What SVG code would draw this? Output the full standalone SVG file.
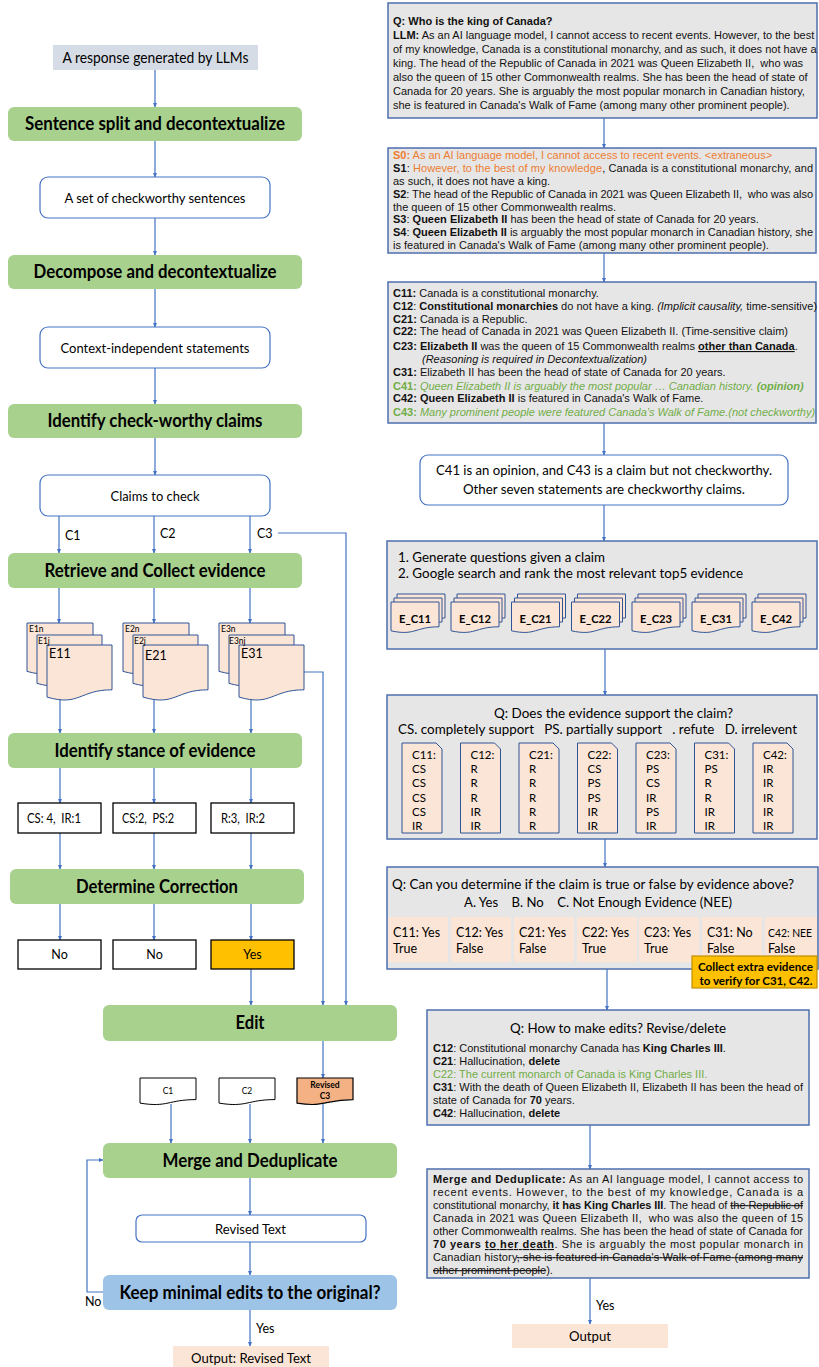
<svg xmlns="http://www.w3.org/2000/svg" width="819" height="1367" viewBox="0 0 819 1367">
<defs>
<style>
.con{fill:none;stroke:#4472c4;stroke-width:1.2}
.arr{marker-end:url(#ah)}
.gbx{fill:#a9d18e}
.bbx{fill:#9dc3e6}
.gray{fill:#e7e6e6;stroke:#4f6fad;stroke-width:1.5}
.wbox{fill:#fff;stroke:#4472c4;stroke-width:1.2}
.kbox{fill:#fff;stroke:#000;stroke-width:1.3}
.ybox{fill:#ffc000;stroke:#000;stroke-width:1.3}
.obox{fill:#f4b183;stroke:#000;stroke-width:1.2}
.peach{fill:#fbe5d6}
.edoc{fill:#fbe5d6;stroke:#2f5597;stroke-width:1}
.cal{font-family:Lato,"Open Sans","DejaVu Sans",sans-serif;fill:#000}
.ar{font-family:"Liberation Sans",Arial,sans-serif;font-size:11px;fill:#111}
.h{font-size:18px;font-weight:bold;text-anchor:middle}
.m{text-anchor:middle}
.b{font-weight:bold}
.i{font-style:italic}
.o{fill:#ed7d31}
.g{fill:#70ad47}
.u{text-decoration:underline}
.s{text-decoration:line-through}
.pre{white-space:pre}
</style>
<marker id="ah" viewBox="0 0 10 10" refX="9" refY="5" markerWidth="5" markerHeight="5" markerUnits="userSpaceOnUse" orient="auto"><path d="M0,0.5 L10,5 L0,9.5 z" fill="#4472c4"/></marker>
<g id="eStack">
<path class="edoc" d="M0 0 H66 V41.6 C33 41.6 33 57.2 0 48.4 Z"/>
<path class="edoc" d="M10 12 H75 V53.6 C42.5 53.6 42.5 69.2 10 60.4 Z"/>
<path class="edoc" d="M20 22 H85 V66.8 C52.5 66.8 52.5 83.6 20 74.1 Z"/>
</g>
<g id="ecStack">
<path class="edoc" d="M6 0 H54 V24 C30 24 30 33 6 28 Z"/>
<path class="edoc" d="M3 4 H51 V28 C27 28 27 37 3 32 Z"/>
<path class="edoc" d="M0 8 H48 V32.8 C24 32.8 24 42.1 0 36.8 Z"/>
</g>
<path id="card" class="edoc" d="M0 0 H34 L40 6 V90 H0 Z"/>
<path id="sdoc" d="M0 0 H56 V21.6 C28 21.6 28 29.7 0 25.1 Z"/>
</defs>
<rect width="819" height="1367" fill="#fff"/>

<!-- connectors -->
<g id="connectors">
<path class="con arr" d="M155 70 V107"/>
<path class="con arr" d="M155 141 V177"/>
<path class="con arr" d="M155 218 V255"/>
<path class="con arr" d="M155 289 V327"/>
<path class="con arr" d="M155 368 V404"/>
<path class="con arr" d="M155 438 V475"/>
<path class="con arr" d="M59 516 V553"/>
<path class="con arr" d="M154 516 V553"/>
<path class="con arr" d="M250 516 V553"/>
<path class="con arr" d="M278 533 H346 V1005"/>
<path class="con arr" d="M59 588 V623"/>
<path class="con arr" d="M154 588 V623"/>
<path class="con arr" d="M250 588 V623"/>
<path class="con arr" d="M304 672 H323 V1005"/>
<path class="con arr" d="M60 698 V733"/>
<path class="con arr" d="M154 698 V733"/>
<path class="con arr" d="M251 698 V733"/>
<path class="con arr" d="M60 768 V803"/>
<path class="con arr" d="M154 768 V803"/>
<path class="con arr" d="M251 768 V803"/>
<path class="con arr" d="M60 833 V869"/>
<path class="con arr" d="M154 833 V869"/>
<path class="con arr" d="M251 833 V869"/>
<path class="con arr" d="M60 904 V940"/>
<path class="con arr" d="M154 904 V940"/>
<path class="con arr" d="M251 904 V940"/>
<path class="con arr" d="M251 969 V1005"/>
<path class="con arr" d="M323 1041 V1078"/>
<path class="con arr" d="M171 1104 V1143"/>
<path class="con arr" d="M250 1104 V1143"/>
<path class="con arr" d="M323 1104 V1143"/>
<path class="con arr" d="M250 1178 V1215"/>
<path class="con arr" d="M250 1242 V1275"/>
<path class="con arr" d="M103 1292 H87 V1160 H103"/>
<path class="con arr" d="M250 1310 V1346"/>
<path class="con arr" d="M604 118 V148"/>
<path class="con arr" d="M604 253 V282"/>
<path class="con arr" d="M604 423 V455"/>
<path class="con arr" d="M604 505 V541"/>
<path class="con arr" d="M605 649 V695"/>
<path class="con arr" d="M605 839 V867"/>
<path class="con arr" d="M607 969 V1010"/>
<path class="con arr" d="M590 1125 V1169"/>
<path class="con arr" d="M590 1278 V1324"/>
<text class="cal" x="65" y="540" font-size="12.5">C1</text>
<text class="cal" x="160" y="538" font-size="12.5">C2</text>
<text class="cal" x="257" y="538" font-size="12.5">C3</text>
<text class="cal" x="85" y="1306" font-size="12.5">No</text>
<text class="cal" x="256" y="1333" font-size="12.5">Yes</text>
<text class="cal" x="596" y="1310" font-size="12.5">Yes</text>
</g>

<!-- left column -->
<g id="n-response">
<rect x="53" y="45" width="205" height="25" fill="#d6dce5"/>
<text class="cal m" x="155.5" y="62.5" font-size="15" textLength="186" lengthAdjust="spacingAndGlyphs">A response generated by LLMs</text>
</g>
<g id="n-split">
<rect class="gbx" x="8" y="107" width="294" height="34" rx="6"/>
<text class="cal h" x="155" y="130" textLength="260" lengthAdjust="spacingAndGlyphs">Sentence split and decontextualize</text>
</g>
<g id="n-sentences">
<rect class="wbox" x="40" y="177" width="230" height="41" rx="8"/>
<text class="cal m" x="155" y="202.5" font-size="14" textLength="181" lengthAdjust="spacingAndGlyphs">A set of checkworthy sentences</text>
</g>
<g id="n-decompose">
<rect class="gbx" x="8" y="255" width="294" height="34" rx="6"/>
<text class="cal h" x="155" y="278" textLength="243" lengthAdjust="spacingAndGlyphs">Decompose and decontextualize</text>
</g>
<g id="n-statements">
<rect class="wbox" x="40" y="327" width="230" height="41" rx="8"/>
<text class="cal m" x="155" y="352.5" font-size="14" textLength="189" lengthAdjust="spacingAndGlyphs">Context-independent statements</text>
</g>
<g id="n-identify">
<rect class="gbx" x="8" y="404" width="294" height="34" rx="6"/>
<text class="cal h" x="155" y="427" textLength="215" lengthAdjust="spacingAndGlyphs">Identify check-worthy claims</text>
</g>
<g id="n-claims">
<rect class="wbox" x="40" y="475" width="230" height="41" rx="8"/>
<text class="cal m" x="155" y="500.5" font-size="14" textLength="89" lengthAdjust="spacingAndGlyphs">Claims to check</text>
</g>
<g id="n-retrieve">
<rect class="gbx" x="8" y="553" width="294" height="35" rx="6"/>
<text class="cal h" x="155" y="576.5" textLength="221" lengthAdjust="spacingAndGlyphs">Retrieve and Collect evidence</text>
</g>
<g id="n-evidence1">
<use href="#eStack" x="27" y="623"/>
<text class="cal" x="29" y="632" font-size="8.5">E1n</text>
<text class="cal" x="38" y="644" font-size="8.5">E1j</text>
<text class="cal" x="49" y="658" font-size="12.5">E11</text>
</g>
<g id="n-evidence2">
<use href="#eStack" x="123" y="623"/>
<text class="cal" x="125" y="632" font-size="8.5">E2n</text>
<text class="cal" x="134" y="644" font-size="8.5">E2j</text>
<text class="cal" x="145" y="660" font-size="12.5">E21</text>
</g>
<g id="n-evidence3">
<use href="#eStack" x="219" y="623"/>
<text class="cal" x="221" y="632" font-size="8.5">E3n</text>
<text class="cal" x="229" y="644" font-size="8.5">E3nj</text>
<text class="cal" x="241" y="658" font-size="12.5">E31</text>
</g>
<g id="n-stance">
<rect class="gbx" x="8" y="733" width="294" height="35" rx="6"/>
<text class="cal h" x="155" y="756.5" textLength="201" lengthAdjust="spacingAndGlyphs">Identify stance of evidence</text>
</g>
<g id="n-stance1">
<rect class="kbox" x="18" y="803" width="83" height="30"/>
<text class="cal pre" x="27" y="823" font-size="12.5" textLength="54" lengthAdjust="spacingAndGlyphs">CS: 4,  IR:1</text>
</g>
<g id="n-stance2">
<rect class="kbox" x="113" y="803" width="83" height="30"/>
<text class="cal pre" x="122" y="823" font-size="12.5" textLength="52" lengthAdjust="spacingAndGlyphs">CS:2,  PS:2</text>
</g>
<g id="n-stance3">
<rect class="kbox" x="211" y="803" width="83" height="30"/>
<text class="cal pre" x="221" y="823" font-size="12.5" textLength="44" lengthAdjust="spacingAndGlyphs">R:3,  IR:2</text>
</g>
<g id="n-determine">
<rect class="gbx" x="10" y="869" width="294" height="35" rx="6"/>
<text class="cal h" x="157" y="892.5" textLength="162" lengthAdjust="spacingAndGlyphs">Determine Correction</text>
</g>
<g id="n-no1">
<rect class="kbox" x="18" y="940" width="83" height="29"/>
<text class="cal m" x="59.5" y="959" font-size="12.5">No</text>
</g>
<g id="n-no2">
<rect class="kbox" x="113" y="940" width="83" height="29"/>
<text class="cal m" x="154.5" y="959" font-size="12.5">No</text>
</g>
<g id="n-yes">
<rect class="ybox" x="211" y="940" width="83" height="29"/>
<text class="cal m" x="252.5" y="959" font-size="12.5">Yes</text>
</g>
<g id="n-edit">
<rect class="gbx" x="103" y="1005" width="294" height="36" rx="6"/>
<text class="cal h" x="250" y="1029" textLength="29" lengthAdjust="spacingAndGlyphs">Edit</text>
</g>
<g id="n-c1">
<use href="#sdoc" class="kbox" x="140" y="1078" style="stroke-width:1"/>
<text class="cal m" x="168" y="1094" font-size="8.5">C1</text>
</g>
<g id="n-c2">
<use href="#sdoc" class="kbox" x="219" y="1078" style="stroke-width:1"/>
<text class="cal m" x="247" y="1094" font-size="8.5">C2</text>
</g>
<g id="n-c3">
<use href="#sdoc" class="obox" x="297" y="1078"/>
<text class="cal m b" x="325" y="1088" font-size="8.5">Revised</text>
<text class="cal m b" x="325" y="1099" font-size="8.5">C3</text>
</g>
<g id="n-merge">
<rect class="gbx" x="103" y="1143" width="294" height="35" rx="6"/>
<text class="cal h" x="250" y="1166.5" textLength="175" lengthAdjust="spacingAndGlyphs">Merge and Deduplicate</text>
</g>
<g id="n-revised">
<rect class="wbox" x="136" y="1215" width="230" height="27" rx="6"/>
<text class="cal m" x="250.5" y="1233.5" font-size="14" textLength="71" lengthAdjust="spacingAndGlyphs">Revised Text</text>
</g>
<g id="n-keep">
<rect class="bbx" x="103" y="1275" width="294" height="35" rx="6"/>
<text class="cal h" x="250" y="1298.5" textLength="261" lengthAdjust="spacingAndGlyphs">Keep minimal edits to the original?</text>
</g>
<g id="n-output-left">
<rect class="peach" x="173" y="1346" width="156" height="22"/>
<text class="cal m" x="251" y="1363" font-size="14" textLength="120" lengthAdjust="spacingAndGlyphs">Output: Revised Text</text>
</g>

<!-- right column -->
<g id="r-question">
<rect class="gray" x="388" y="3" width="429" height="115"/>
<text class="ar b" x="393" y="24.5">Q: Who is the king of Canada?</text>
<text class="ar" x="393" y="39"><tspan class="b">LLM:</tspan> As an AI language model, I cannot access to recent events. However, to the best</text>
<text class="ar" x="393" y="53">of my knowledge, Canada is a constitutional monarchy, and as such, it does not have a</text>
<text class="ar pre" x="393" y="67">king. The head of the Republic of Canada in 2021 was Queen Elizabeth II,  who was</text>
<text class="ar" x="393" y="81">also the queen of 15 other Commonwealth realms. She has been the head of state of</text>
<text class="ar" x="393" y="95">Canada for 20 years. She is arguably the most popular monarch in Canadian history,</text>
<text class="ar" x="393" y="109">she is featured in Canada's Walk of Fame (among many other prominent people).</text>
</g>
<g id="r-sentences">
<rect class="gray" x="388" y="148" width="428" height="105"/>
<text class="ar o" x="393" y="159"><tspan class="b">S0:</tspan> As an AI language model, I cannot access to recent events. &lt;extraneous&gt;</text>
<text class="ar" x="393" y="172" textLength="420" lengthAdjust="spacing"><tspan class="b">S1</tspan>: <tspan class="o">However, to the best of my knowledge</tspan>, Canada is a constitutional monarchy, and</text>
<text class="ar" x="393" y="185">as such, it does not have a king.</text>
<text class="ar pre" x="393" y="198" textLength="420" lengthAdjust="spacing"><tspan class="b">S2</tspan>: The head of the Republic of Canada in 2021 was Queen Elizabeth II,  who was also</text>
<text class="ar" x="393" y="210.5">the queen of 15 other Commonwealth realms.</text>
<text class="ar" x="393" y="223"><tspan class="b">S3</tspan>: <tspan class="b">Queen Elizabeth II</tspan> has been the head of state of Canada for 20 years.</text>
<text class="ar" x="393" y="236" textLength="420" lengthAdjust="spacing"><tspan class="b">S4</tspan>: <tspan class="b">Queen Elizabeth II</tspan> is arguably the most popular monarch in Canadian history, she</text>
<text class="ar" x="393" y="249">is featured in Canada's Walk of Fame (among many other prominent people).</text>
</g>
<g id="r-claims">
<rect class="gray" x="388" y="282" width="428" height="141"/>
<text class="ar" x="393" y="297"><tspan class="b">C11:</tspan> Canada is a constitutional monarchy.</text>
<text class="ar" x="393" y="309.5"><tspan class="b">C12</tspan>: <tspan class="b">Constitutional monarchies</tspan> do not have a king. <tspan class="i">(Implicit causality,</tspan> time-sensitive)</text>
<text class="ar" x="393" y="322.5"><tspan class="b">C21:</tspan> Canada is a Republic.</text>
<text class="ar" x="393" y="335"><tspan class="b">C22:</tspan> The head of Canada in 2021 was Queen Elizabeth II. (Time-sensitive claim)</text>
<text class="ar" x="393" y="350"><tspan class="b">C23: Elizabeth II</tspan> was the queen of 15 Commonwealth realms <tspan class="b u">other than Canada</tspan>.</text>
<text class="ar i" x="422" y="362.5">(Reasoning is required in Decontextualization)</text>
<text class="ar" x="393" y="376"><tspan class="b">C31:</tspan> Elizabeth II has been the head of state of Canada for 20 years.</text>
<text class="ar g" x="393" y="389.5"><tspan class="b">C41:</tspan> <tspan class="i">Queen Elizabeth II is arguably the most popular … Canadian history.</tspan> <tspan class="b i">(opinion)</tspan></text>
<text class="ar" x="393" y="402"><tspan class="b">C42: Queen Elizabeth II</tspan> is featured in Canada's Walk of Fame.</text>
<text class="ar g" x="393" y="415.5"><tspan class="b">C43:</tspan> <tspan class="i">Many prominent people were featured Canada’s Walk of Fame.(not checkworthy)</tspan></text>
</g>
<g id="r-checkworthy">
<rect class="wbox" x="420" y="455" width="368" height="50" rx="8"/>
<text class="cal m" x="604" y="475" font-size="14" textLength="336" lengthAdjust="spacingAndGlyphs">C41 is an opinion, and C43 is a claim but not checkworthy.</text>
<text class="cal m" x="604" y="494" font-size="14" textLength="282" lengthAdjust="spacingAndGlyphs">Other seven statements are checkworthy claims.</text>
</g>
<g id="r-retrieve">
<rect class="gray" x="387" y="541" width="430" height="108"/>
<text class="cal" x="398" y="562" font-size="14" textLength="207" lengthAdjust="spacingAndGlyphs">1. Generate questions given a claim</text>
<text class="cal" x="398" y="578" font-size="14" textLength="345" lengthAdjust="spacingAndGlyphs">2. Google search and rank the most relevant top5 evidence</text>
<use href="#ecStack" x="391" y="594"/>
<use href="#ecStack" x="451" y="594"/>
<use href="#ecStack" x="511.5" y="594"/>
<use href="#ecStack" x="571.5" y="594"/>
<use href="#ecStack" x="632" y="594"/>
<use href="#ecStack" x="692" y="594"/>
<use href="#ecStack" x="752" y="594"/>
<g class="cal b" font-size="12" text-anchor="middle">
<text x="415" y="622.5" textLength="32" lengthAdjust="spacingAndGlyphs">E_C11</text>
<text x="475" y="622.5" textLength="32" lengthAdjust="spacingAndGlyphs">E_C12</text>
<text x="535.5" y="622.5" textLength="32" lengthAdjust="spacingAndGlyphs">E_C21</text>
<text x="595.5" y="622.5" textLength="32" lengthAdjust="spacingAndGlyphs">E_C22</text>
<text x="656" y="622.5" textLength="32" lengthAdjust="spacingAndGlyphs">E_C23</text>
<text x="716" y="622.5" textLength="32" lengthAdjust="spacingAndGlyphs">E_C31</text>
<text x="776" y="622.5" textLength="32" lengthAdjust="spacingAndGlyphs">E_C42</text>
</g>
</g>
<g id="r-stance">
<rect class="gray" x="387" y="695" width="430" height="144"/>
<text class="cal m" x="613.5" y="717.5" font-size="14" textLength="239" lengthAdjust="spacingAndGlyphs">Q: Does the evidence support the claim?</text>
<text class="cal pre" x="398" y="733.5" font-size="14" textLength="399" lengthAdjust="spacingAndGlyphs">CS. completely support   PS. partially support   . refute   D. irrelevent</text>
<use href="#card" x="402" y="743"/>
<use href="#card" x="460.5" y="743"/>
<use href="#card" x="519" y="743"/>
<use href="#card" x="577.5" y="743"/>
<use href="#card" x="636" y="743"/>
<use href="#card" x="694.5" y="743"/>
<use href="#card" x="753" y="743"/>
<g class="cal" font-size="11.5">
<text x="412" y="759">C11:<tspan x="412" dy="14">CS</tspan><tspan x="412" dy="14">CS</tspan><tspan x="412" dy="14.5">CS</tspan><tspan x="412" dy="14">CS</tspan><tspan x="412" dy="14">IR</tspan></text>
<text x="470.5" y="759">C12:<tspan x="470.5" dy="14">R</tspan><tspan x="470.5" dy="14">R</tspan><tspan x="470.5" dy="14.5">R</tspan><tspan x="470.5" dy="14">IR</tspan><tspan x="470.5" dy="14">IR</tspan></text>
<text x="529" y="759">C21:<tspan x="529" dy="14">R</tspan><tspan x="529" dy="14">R</tspan><tspan x="529" dy="14.5">R</tspan><tspan x="529" dy="14">R</tspan><tspan x="529" dy="14">R</tspan></text>
<text x="587.5" y="759">C22:<tspan x="587.5" dy="14">CS</tspan><tspan x="587.5" dy="14">PS</tspan><tspan x="587.5" dy="14.5">PS</tspan><tspan x="587.5" dy="14">IR</tspan><tspan x="587.5" dy="14">IR</tspan></text>
<text x="646" y="759">C23:<tspan x="646" dy="14">PS</tspan><tspan x="646" dy="14">CS</tspan><tspan x="646" dy="14.5">IR</tspan><tspan x="646" dy="14">PS</tspan><tspan x="646" dy="14">IR</tspan></text>
<text x="704.5" y="759">C31:<tspan x="704.5" dy="14">PS</tspan><tspan x="704.5" dy="14">R</tspan><tspan x="704.5" dy="14.5">R</tspan><tspan x="704.5" dy="14">IR</tspan><tspan x="704.5" dy="14">IR</tspan></text>
<text x="763" y="759">C42:<tspan x="763" dy="14">IR</tspan><tspan x="763" dy="14">IR</tspan><tspan x="763" dy="14.5">IR</tspan><tspan x="763" dy="14">IR</tspan><tspan x="763" dy="14">IR</tspan></text>
</g>
</g>
<g id="r-determine">
<rect class="gray" x="387" y="867" width="431" height="102"/>
<text class="cal" x="392" y="889" font-size="13.5" textLength="402" lengthAdjust="spacingAndGlyphs">Q: Can you determine if the claim is true or false by evidence above?</text>
<text class="cal m pre" x="598" y="907" font-size="13.5" textLength="268" lengthAdjust="spacingAndGlyphs">A. Yes    B. No    C. Not Enough Evidence (NEE)</text>
<rect class="peach" x="388" y="917" width="60" height="45"/>
<rect class="peach" x="451" y="917" width="60" height="45"/>
<rect class="peach" x="514" y="917" width="60" height="45"/>
<rect class="peach" x="577" y="917" width="60" height="45"/>
<rect class="peach" x="639" y="917" width="60" height="45"/>
<rect class="peach" x="702" y="917" width="60" height="45"/>
<rect class="peach" x="765" y="917" width="52" height="45"/>
<g class="cal" font-size="12.5">
<text x="393" y="936.5">C11: Yes<tspan x="393" dy="16">True</tspan></text>
<text x="456" y="936.5">C12: Yes<tspan x="456" dy="16">False</tspan></text>
<text x="519" y="936.5">C21: Yes<tspan x="519" dy="16">False</tspan></text>
<text x="582" y="936.5">C22: Yes<tspan x="582" dy="16">True</tspan></text>
<text x="644" y="936.5">C23: Yes<tspan x="644" dy="16">True</tspan></text>
<text x="707" y="936.5">C31: No<tspan x="707" dy="16">False</tspan></text>
<text x="768" y="936.5" font-size="12" textLength="44" lengthAdjust="spacingAndGlyphs">C42: NEE</text>
<text x="768" y="952.5">False</text>
</g>
</g>
<g id="r-extra">
<rect x="692" y="956" width="125" height="32" fill="#ffc000" stroke="#bf9000" stroke-width="1.2"/>
<text class="cal m b" x="755.5" y="970.5" font-size="12" textLength="115" lengthAdjust="spacingAndGlyphs">Collect extra evidence</text>
<text class="cal m b" x="756" y="985" font-size="12" textLength="113" lengthAdjust="spacingAndGlyphs">to verify for C31, C42.</text>
</g>
<g id="r-edits">
<rect class="gray" x="427" y="1010" width="382" height="115"/>
<text class="cal m" x="618" y="1033" font-size="14" textLength="216" lengthAdjust="spacingAndGlyphs">Q: How to make edits? Revise/delete</text>
<text class="ar" x="433" y="1052"><tspan class="b">C12</tspan>: Constitutional monarchy Canada has <tspan class="b">King Charles III</tspan>.</text>
<text class="ar" x="433" y="1065"><tspan class="b">C21</tspan>: Hallucination, <tspan class="b">delete</tspan></text>
<text class="ar g" x="433" y="1078">C22: The current monarch of Canada is King Charles III.</text>
<text class="ar" x="433" y="1091"><tspan class="b">C31</tspan>: With the death of Queen Elizabeth II, Elizabeth II has been the head of</text>
<text class="ar" x="433" y="1104">state of Canada for <tspan class="b">70</tspan> years.</text>
<text class="ar" x="433" y="1117"><tspan class="b">C42</tspan>: Hallucination, <tspan class="b">delete</tspan></text>
</g>
<g id="r-merge">
<rect class="gray" x="427" y="1169" width="382" height="109"/>
<text class="ar" x="433" y="1183" textLength="370" lengthAdjust="spacing"><tspan class="b">Merge and Deduplicate:</tspan> As an AI language model, I cannot access to</text>
<text class="ar" x="433" y="1196" textLength="370" lengthAdjust="spacing">recent events. However, to the best of my knowledge, Canada is a</text>
<text class="ar" x="433" y="1209" textLength="370" lengthAdjust="spacing">constitutional monarchy, <tspan class="b">it has King Charles III</tspan>. The head of <tspan class="s">the Republic of</tspan></text>
<text class="ar pre" x="433" y="1222" textLength="370" lengthAdjust="spacing">Canada in 2021 was Queen Elizabeth II,  who was also the queen of 15</text>
<text class="ar" x="433" y="1235" textLength="370" lengthAdjust="spacing">other Commonwealth realms. She has been the head of state of Canada for</text>
<text class="ar" x="433" y="1248" textLength="370" lengthAdjust="spacing"><tspan class="b">70 years</tspan> <tspan class="b u">to her death</tspan>. She is arguably the most popular monarch in</text>
<text class="ar" x="433" y="1261" textLength="370" lengthAdjust="spacing">Canadian history<tspan class="s">, she is featured in Canada's Walk of Fame (among many</tspan></text>
<text class="ar" x="433" y="1274"><tspan class="s">other prominent people</tspan>).</text>
</g>
<g id="r-output">
<rect class="peach" x="512" y="1324" width="156" height="24"/>
<text class="cal m" x="590" y="1341" font-size="14" textLength="42" lengthAdjust="spacingAndGlyphs">Output</text>
</g>
</svg>
